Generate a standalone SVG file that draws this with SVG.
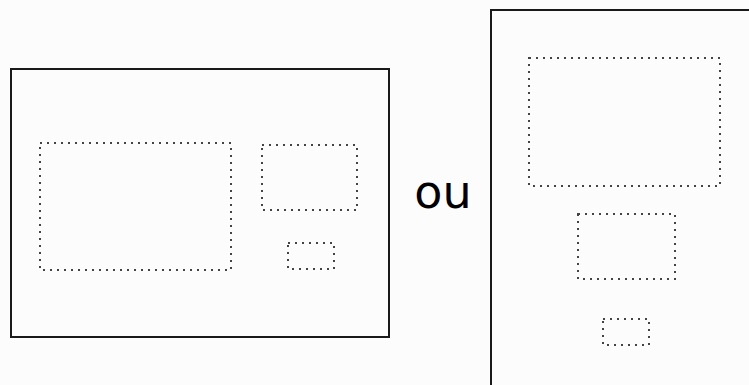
<svg xmlns="http://www.w3.org/2000/svg" width="749" height="385" viewBox="0 0 749 385">
<style>
.frame{fill:none;stroke:#1a1a1a;stroke-width:2}
.zone{fill:none;stroke:#444;stroke-width:2;stroke-dasharray:2 5}
.lbl{font-family:"DejaVu Sans",sans-serif;font-size:46px;fill:#000}
</style>
<rect width="749" height="385" fill="#fcfcfc"/>
<g id="landscape">
<rect class="frame" x="11" y="69" width="378" height="268"/>
<rect class="zone" x="40" y="143" width="191" height="127"/>
<rect class="zone" x="262" y="145" width="95" height="65"/>
<rect class="zone" x="288" y="243" width="46" height="26"/>
</g>
<g id="or">
<text class="lbl" x="443" y="208" text-anchor="middle">ou</text>
</g>
<g id="portrait">
<rect class="frame" x="491" y="10" width="270" height="390"/>
<rect class="zone" x="529" y="58" width="191" height="128"/>
<rect class="zone" x="578" y="214" width="97" height="65"/>
<rect class="zone" x="603" y="319" width="46" height="26"/>
</g>
<g id="connectors"/>
</svg>
